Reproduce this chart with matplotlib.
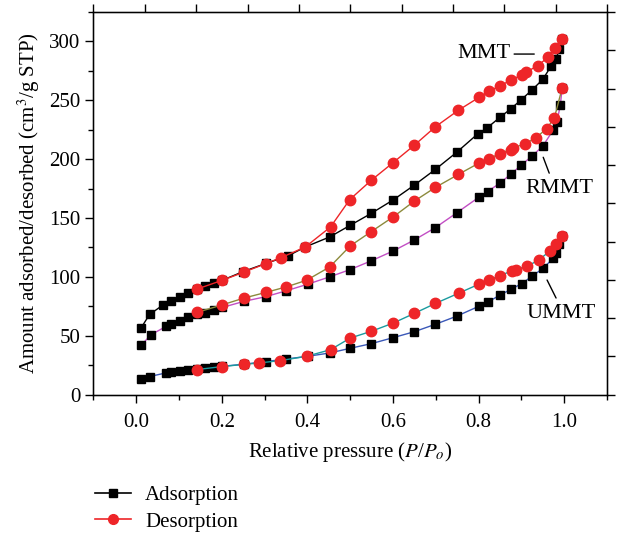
import numpy as np
import matplotlib
matplotlib.use("Agg")
import matplotlib.pyplot as plt
from matplotlib.lines import Line2D
from matplotlib.ticker import MultipleLocator

plt.rcParams["font.family"] = ["Liberation Serif", "DejaVu Serif"]
plt.rcParams["mathtext.fontset"] = "stix"

mmt_ads_x = [0.011, 0.031, 0.062, 0.080, 0.101, 0.120, 0.142, 0.161, 0.182, 0.201,
             0.250, 0.303, 0.354, 0.395, 0.452, 0.500, 0.549, 0.601, 0.650, 0.699,
             0.749, 0.798, 0.820, 0.850, 0.875, 0.899, 0.924, 0.950, 0.970, 0.981,
             0.989, 0.995]
mmt_ads_y = [56.5, 68.0, 76.0, 79.1, 82.5, 86.0, 89.6, 92.0, 94.9, 97.1,
             104.5, 111.4, 117.7, 125.4, 133.9, 143.8, 153.9, 165.5, 178.0, 191.3,
             205.9, 221.5, 226.6, 235.6, 242.7, 250.3, 258.5, 267.8, 279.4, 285.3,
             293.5, 302.0]
mmt_des_x = [0.995, 0.978, 0.963, 0.938, 0.910, 0.901, 0.875, 0.850, 0.825, 0.801,
             0.753, 0.699, 0.650, 0.599, 0.549, 0.499, 0.454, 0.395, 0.339, 0.303,
             0.251, 0.201, 0.142]
mmt_des_y = [302.0, 294.4, 286.8, 279.4, 273.7, 271.7, 267.0, 262.4, 257.7, 252.5,
             241.6, 227.5, 211.9, 196.7, 182.0, 165.7, 142.4, 125.4, 116.4, 111.3,
             103.9, 97.1, 89.6]

rmmt_ads_x = [0.012, 0.035, 0.070, 0.082, 0.101, 0.122, 0.142, 0.161, 0.182, 0.201,
              0.251, 0.302, 0.351, 0.401, 0.452, 0.500, 0.549, 0.601, 0.650, 0.699,
              0.749, 0.800, 0.821, 0.850, 0.875, 0.899, 0.924, 0.950, 0.975, 0.983,
              0.991, 0.995]
rmmt_ads_y = [42.1, 51.0, 57.9, 59.9, 62.4, 65.6, 68.4, 69.5, 72.0, 74.0,
              79.1, 83.1, 88.2, 93.8, 100.0, 106.2, 113.6, 122.1, 131.4, 141.8,
              154.4, 167.5, 172.5, 179.7, 187.1, 194.7, 202.4, 211.1, 225.1, 231.7,
              245.8, 260.1]
rmmt_des_x = [0.995, 0.977, 0.959, 0.934, 0.908, 0.881, 0.875, 0.850, 0.825, 0.801,
              0.753, 0.699, 0.650, 0.601, 0.549, 0.500, 0.452, 0.398, 0.351, 0.302,
              0.251, 0.201, 0.142]
rmmt_des_y = [260.1, 235.0, 226.0, 218.1, 213.0, 209.6, 208.2, 204.8, 200.5, 196.7,
              187.1, 176.0, 164.4, 151.1, 138.4, 126.3, 108.4, 97.1, 91.5, 86.7,
              81.9, 76.2, 69.8]

ummt_ads_x = [0.012, 0.031, 0.070, 0.082, 0.101, 0.122, 0.142, 0.161, 0.182, 0.201,
              0.251, 0.302, 0.351, 0.401, 0.452, 0.500, 0.549, 0.601, 0.650, 0.699,
              0.749, 0.800, 0.821, 0.850, 0.875, 0.901, 0.924, 0.950, 0.975, 0.981,
              0.989, 0.994]
ummt_ads_y = [13.0, 15.3, 18.4, 19.1, 20.3, 20.9, 21.5, 22.3, 23.2, 24.0,
              25.7, 28.0, 30.2, 32.5, 35.3, 39.3, 43.2, 48.4, 53.4, 59.7,
              66.6, 74.9, 78.5, 84.5, 89.3, 94.3, 100.3, 107.1, 115.9, 120.6,
              127.7, 134.7]
ummt_des_x = [0.994, 0.981, 0.967, 0.940, 0.913, 0.887, 0.877, 0.850, 0.825, 0.801,
              0.754, 0.699, 0.650, 0.601, 0.549, 0.500, 0.454, 0.398, 0.336, 0.286,
              0.251, 0.201, 0.142]
ummt_des_y = [134.7, 127.7, 122.1, 114.1, 109.0, 106.2, 105.1, 100.9, 97.7, 93.8,
              86.2, 77.4, 69.0, 60.8, 53.7, 48.0, 38.1, 32.5, 28.8, 26.8,
              25.6, 23.8, 21.2]

RED = "#ee2528"
FS = 15
sq = dict(marker="s", markersize=5.8, markerfacecolor="black", markeredgecolor="black", lw=1.0)
ci = dict(marker="o", markersize=7.5, markerfacecolor=RED, markeredgecolor=RED, lw=1.0)

fig = plt.figure(figsize=(6.2, 5.33), dpi=100)
ax = fig.add_axes([0.1508, 0.2598, 0.8282, 0.7176])

# adsorption first, desorption drawn on top
ax.plot(mmt_ads_x, mmt_ads_y, color="black", **sq)
ax.plot(rmmt_ads_x, rmmt_ads_y, color="#c24ec4", **sq)
ax.plot(ummt_ads_x, ummt_ads_y, color="#3a58b8", **sq)
ax.plot(mmt_des_x, mmt_des_y, color=RED, **ci)
ax.plot(rmmt_des_x, rmmt_des_y, color="#8c8a3c", **ci)
ax.plot(ummt_des_x, ummt_des_y, color="#1a9a9e", **ci)

ax.set_xlim(-0.1, 1.1)
ax.set_ylim(0, 325)
ax.xaxis.set_major_locator(MultipleLocator(0.2))
ax.xaxis.set_minor_locator(MultipleLocator(0.1))
ax.yaxis.set_major_locator(MultipleLocator(50))
ax.yaxis.set_minor_locator(MultipleLocator(25))
ax.tick_params(which="major", direction="out", length=6, width=1, labelsize=FS, colors="black")
ax.tick_params(which="minor", direction="out", length=3.5, width=1)
ax.tick_params(axis="x", pad=7)
ax.set_xticklabels([f"{v:.1f}" for v in ax.get_xticks()])
for s in ax.spines.values():
    s.set_linewidth(1.0)

ax.set_xlabel(r"Relative pressure ($P$/$P_o$)", fontsize=FS, labelpad=6)
ax.set_ylabel(r"Amount adsorbed/desorbed (cm$^3$/g STP)", fontsize=FS, labelpad=5)

# extra tick frame on top and right
axr = ax.twinx()
axr.set_ylim(0, 10)
axr.set_yticks(np.arange(0, 11, 1))
axr.tick_params(direction="out", length=6, width=1, labelright=False)
axt = ax.twiny()
axt.set_xlim(0, 10)
axt.set_xticks(np.arange(0, 11, 1))
axt.tick_params(direction="out", length=6, width=1, labeltop=False)

# sample labels with leader lines
ax.text(0.874, 290.1, "MMT", fontsize=16, ha="right", va="center")
ax.annotate("", xy=(0.930, 289.3), xytext=(0.883, 289.3),
            arrowprops=dict(arrowstyle="-", lw=1.0, color="black", shrinkA=0, shrinkB=0))
ax.text(0.909, 175.4, "RMMT", fontsize=16, ha="left", va="center")
ax.annotate("", xy=(0.951, 201.6), xytext=(0.965, 188.1),
            arrowprops=dict(arrowstyle="-", lw=1.0, color="black", shrinkA=0, shrinkB=0))
ax.text(0.913, 69.2, "UMMT", fontsize=16, ha="left", va="center")
ax.annotate("", xy=(0.960, 97.3), xytext=(0.981, 82.0),
            arrowprops=dict(arrowstyle="-", lw=1.0, color="black", shrinkA=0, shrinkB=0))

handles = [
    Line2D([], [], color="black", marker="s", markersize=6, lw=1.2, label="Adsorption"),
    Line2D([], [], color=RED, marker="o", markersize=7, markeredgecolor=RED, lw=1.2, label="Desorption"),
]
fig.legend(handles=handles, loc="upper left", bbox_to_anchor=(0.14, 0.104),
           frameon=False, fontsize=FS, handlelength=1.7, handletextpad=0.7,
           labelspacing=0.32, borderaxespad=0)

fig.savefig("out.png", dpi=100)
